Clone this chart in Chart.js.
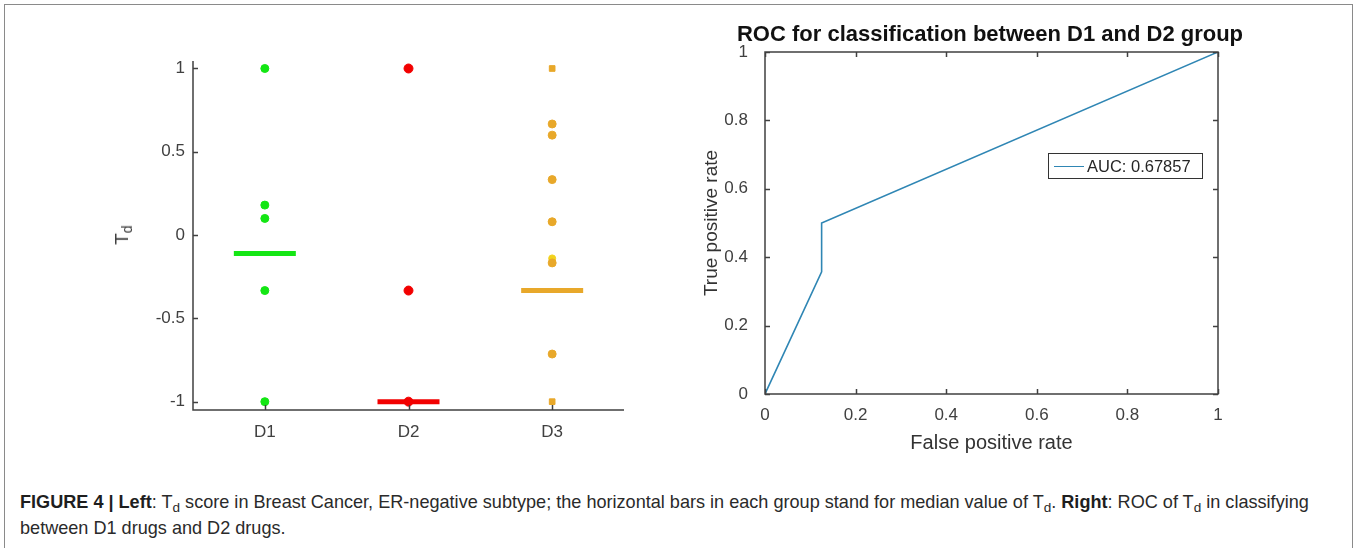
<!DOCTYPE html>
<html>
<head>
<meta charset="utf-8">
<script src="https://cdn.jsdelivr.net/npm/chart.js@4"></script>
<style>
  html, body { margin: 0; padding: 0; background: #fff; }
  body { width: 1359px; height: 548px; position: relative; overflow: hidden; font-family: "Liberation Sans", Arial, sans-serif; }
  #frame { position: absolute; left: 4px; top: 4px; width: 1347px; height: 560px; border: 1.5px solid #8a8a8a; }
  #left { position: absolute; left: 100px; top: 25px; }
  #right { position: absolute; left: 680px; top: 10px; }
  #tdLabel { position: absolute; left: 122px; top: 235px; transform: translate(-50%, -50%) rotate(-90deg); font-size: 19px; color: #404040; white-space: nowrap; }
  #tdLabel sub, #caption sub { font-size: 0.75em; vertical-align: -0.3em; line-height: 0; }
  #rocTitle { position: absolute; left: 990px; top: 34px; transform: translate(-50%, -50%); font-size: 22px; font-weight: bold; color: #111; white-space: nowrap; }
  #legend { position: absolute; left: 1048px; top: 153px; width: 155px; height: 26px; border: 1.3px solid #333; box-sizing: border-box; font-size: 16.5px; color: #262626; line-height: 24px; white-space: nowrap; }
  #legend .swatch { display: inline-block; width: 30px; height: 0; border-top: 1.3px solid #2f86b4; vertical-align: middle; margin: 0 3px 3px 5px; }
  #caption { position: absolute; left: 20px; top: 489px; width: 1330px; font-size: 18.1px; line-height: 26px; color: #2a2a2a; white-space: nowrap; }
  #caption b { color: #1e1e1e; }
</style>
</head>
<body>
<div id="frame"></div>
<canvas id="left" width="560" height="435"></canvas>
<canvas id="right" width="560" height="460"></canvas>
<div id="tdLabel">T<sub>d</sub></div>
<div id="rocTitle">ROC for classification between D1 and D2 group</div>
<div id="legend"><span class="swatch"></span>AUC: 0.67857</div>
<div id="caption"><b>FIGURE 4 | Left</b>: T<sub>d</sub> score in Breast Cancer, ER-negative subtype; the horizontal bars in each group stand for median value of T<sub>d</sub>. <b>Right</b>: ROC of T<sub>d</sub> in classifying<br>between D1 drugs and D2 drugs.</div>
<script>
// Left panel: T_d scores per group
const groups = ['D1', 'D2', 'D3'];
const d1Scores = [1, 0.18, 0.1, -0.333, -1];
const d2Scores = [1, -0.333, -1];
const d3Scores = [1, 0.667, 0.6, 0.333, 0.08, -0.167, -0.714, -1];
const d3Light = [0.08, -0.14];
const medians = [-0.111, -1, -0.333];
const tdTicks = [-1, -0.5, 0, 0.5, 1];

// Right panel: ROC curve
const fpr = [0, 0.125, 0.125, 1];
const tpr = [0, 0.357, 0.5, 1];
const rocTicks = [0, 0.2, 0.4, 0.6, 0.8, 1];

const axisColor = '#404040';
const tickFont = { family: '"Liberation Sans", Arial, sans-serif', size: 17 };

Chart.defaults.animation = false;
Chart.defaults.color = axisColor;

const pts = (g, vals) => vals.map(v => ({ x: g, y: v }));
const plain = v => String(v);

// inward tick marks + axis lines, matlab style
const axesPlugin = {
  id: 'axesPlugin',
  afterDraw(chart, args, opts) {
    const { ctx, chartArea: a, scales: { x, y } } = chart;
    const len = 5;
    ctx.save();
    ctx.strokeStyle = axisColor;
    ctx.lineWidth = 1.5;
    ctx.beginPath();
    if (opts.box) {
      ctx.rect(a.left, a.top, a.right - a.left, a.bottom - a.top);
    } else {
      ctx.moveTo(a.left, a.top);
      ctx.lineTo(a.left, a.bottom);
      ctx.lineTo(a.right, a.bottom);
    }
    y.ticks.forEach(t => {
      const py = Math.round(y.getPixelForValue(t.value)) + 0.5;
      ctx.moveTo(a.left, py); ctx.lineTo(a.left + len, py);
      if (opts.box) { ctx.moveTo(a.right, py); ctx.lineTo(a.right - len, py); }
    });
    x.ticks.forEach(t => {
      const px = Math.round(x.getPixelForValue(t.value)) + 0.5;
      ctx.moveTo(px, a.bottom); ctx.lineTo(px, a.bottom - len);
      if (opts.box) { ctx.moveTo(px, a.top); ctx.lineTo(px, a.top + len); }
    });
    ctx.stroke();
    ctx.restore();
  }
};

const green = '#14e614';
const red = '#f20000';
const orange = '#e8a82a';

new Chart(document.getElementById('left'), {
  type: 'scatter',
  data: {
    datasets: [
      { data: pts(1, d1Scores), backgroundColor: green, borderColor: green, pointRadius: 4 },
      { data: pts(2, d2Scores), backgroundColor: red, borderColor: red, pointRadius: 4.5 },
      {
        data: pts(3, d3Scores), backgroundColor: orange, borderColor: orange, pointRadius: 4,
        pointStyle: c => (c.raw && Math.abs(c.raw.y) === 1 ? 'rect' : 'circle')
      },
      { data: pts(3, d3Light), backgroundColor: '#f2d21c', borderColor: '#f2d21c', pointRadius: 3.5 },
      {
        data: medians.map((m, i) => ({ x: i + 1, y: m })),
        pointStyle: 'line', pointRadius: 31, pointBorderWidth: 5,
        borderColor: [green, red, orange], backgroundColor: [green, red, orange]
      }
    ]
  },
  options: {
    responsive: false,
    layout: { padding: { top: 5, right: 27, left: 0, bottom: 0 } },
    plugins: { legend: { display: false }, tooltip: { enabled: false }, axesPlugin: { box: false } },
    scales: {
      x: {
        type: 'linear', min: 0.5, max: 3.5,
        afterBuildTicks: s => { s.ticks = groups.map((g, i) => ({ value: i + 1 })); },
        afterFit: s => { s.height = 50; },
        grid: { display: false }, border: { display: false },
        ticks: { font: tickFont, padding: 4, callback: v => groups[v - 1] }
      },
      y: {
        min: -1.05, max: 1.045,
        afterBuildTicks: s => { s.ticks = tdTicks.map(v => ({ value: v })); },
        afterFit: s => { s.width = 93; },
        grid: { display: false }, border: { display: false },
        ticks: { font: tickFont, padding: 0, callback: plain }
      }
    }
  },
  plugins: [axesPlugin]
});

new Chart(document.getElementById('right'), {
  type: 'scatter',
  data: {
    datasets: [{
      label: 'AUC: 0.67857',
      data: fpr.map((f, i) => ({ x: f, y: tpr[i] })),
      showLine: true, borderColor: '#2f86b4', borderWidth: 1.6, pointRadius: 0, tension: 0
    }]
  },
  options: {
    responsive: false,
    layout: { padding: { top: 42, right: 22, left: 0, bottom: 0 } },
    plugins: { legend: { display: false }, tooltip: { enabled: false }, axesPlugin: { box: true } },
    scales: {
      x: {
        min: 0, max: 1,
        afterBuildTicks: s => { s.ticks = rocTicks.map(v => ({ value: v })); },
        afterFit: s => { s.height = 76; },
        grid: { display: false }, border: { display: false },
        ticks: { font: tickFont, padding: 3, maxRotation: 0, callback: plain },
        title: { display: true, text: 'False positive rate', font: { size: 20 }, color: '#333', padding: { top: 0, bottom: 15 } }
      },
      y: {
        min: 0, max: 1,
        afterBuildTicks: s => { s.ticks = rocTicks.map(v => ({ value: v })); },
        afterFit: s => { s.width = 85; },
        grid: { display: false }, border: { display: false },
        ticks: { font: tickFont, padding: 9, callback: plain },
        title: { display: true, text: 'True positive rate', font: { size: 19 }, color: '#333', padding: { top: 20, bottom: 0 } }
      }
    }
  },
  plugins: [axesPlugin]
});
</script>
</body>
</html>
